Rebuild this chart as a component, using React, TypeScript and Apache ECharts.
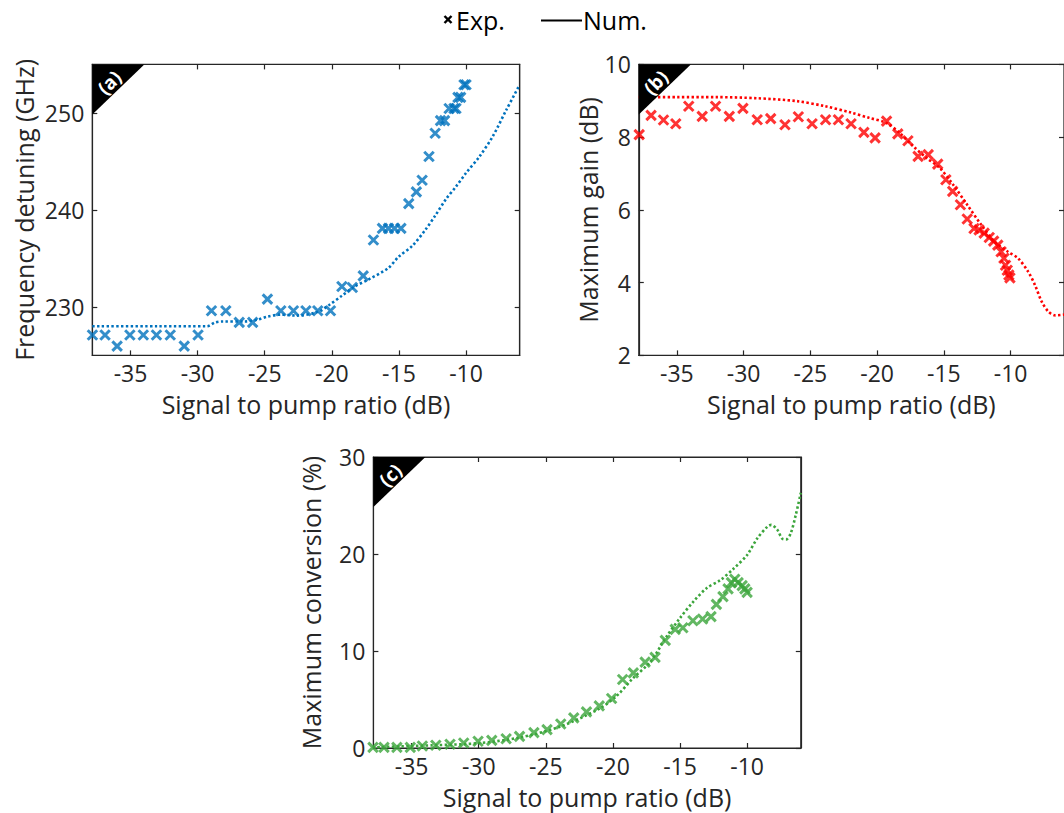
import React, { useEffect, useRef } from 'react';
import * as echarts from 'echarts';

// ---------- data ----------
const xTicks = [-35, -30, -25, -20, -15, -10];

// (a) Frequency detuning
const aExpX = [-37.84, -36.9, -36.0, -35.05, -34.05, -33.07, -32.04, -31.0, -29.97, -28.97, -27.9, -26.9, -25.9, -24.8, -23.8, -22.86, -21.93, -21.05, -20.1, -19.25, -18.47, -17.66, -16.9, -16.23, -15.78, -15.33, -14.85, -14.27, -13.7, -13.27, -12.76, -12.3, -11.9, -11.6, -11.26, -10.9, -10.75, -10.6, -10.4, -10.15, -10.0];
const aExpY = [227.1, 227.1, 225.95, 227.1, 227.1, 227.1, 227.1, 225.95, 227.1, 229.6, 229.6, 228.4, 228.4, 230.8, 229.6, 229.6, 229.6, 229.6, 229.6, 232.1, 232.0, 233.2, 236.9, 238.1, 238.1, 238.1, 238.1, 240.65, 241.86, 243.06, 245.5, 247.9, 249.2, 249.2, 250.45, 250.45, 250.45, 251.6, 251.6, 252.9, 252.9];
const aNumX = [-37.85, -33, -29.3, -28.7, -28.2, -26.5, -25.5, -24.8, -23.8, -22.6, -21.0, -20.2, -19.3, -18.3, -17.3, -15.8, -15.0, -14.0, -13.0, -12.3, -11.5, -10.75, -10.0, -9.0, -8.0, -7.0, -6.0];
const aNumY = [228.0, 228.0, 228.0, 228.4, 228.5, 228.5, 228.7, 229.0, 229.2, 229.1, 229.5, 230.2, 231.1, 232.1, 232.8, 234.0, 235.2, 236.3, 238.0, 239.4, 241.1, 242.4, 243.8, 245.5, 247.6, 250.3, 252.9];
const aYTicks = [230, 240, 250];

// (b) Maximum gain
const bExpX = [-37.82, -36.93, -36.0, -35.08, -34.11, -33.1, -32.1, -31.07, -30.05, -28.98, -27.97, -26.9, -25.9, -24.87, -23.86, -22.9, -21.95, -20.99, -20.15, -19.29, -18.45, -17.69, -16.93, -16.17, -15.46, -14.85, -14.34, -13.76, -13.25, -12.74, -12.36, -11.98, -11.6, -11.27, -10.96, -10.71, -10.5, -10.38, -10.25, -10.13, -10.05];
const bExpY = [8.07, 8.6, 8.47, 8.37, 8.85, 8.57, 8.85, 8.57, 8.79, 8.48, 8.51, 8.34, 8.56, 8.37, 8.48, 8.48, 8.37, 8.13, 7.98, 8.44, 8.09, 7.9, 7.47, 7.52, 7.26, 6.83, 6.51, 6.14, 5.75, 5.49, 5.45, 5.36, 5.24, 5.14, 5.03, 4.85, 4.67, 4.48, 4.34, 4.21, 4.13];
const bNumX = [-37.85, -35, -32, -29, -26, -23.9, -21.9, -20.6, -19.3, -18.3, -17.3, -16.3, -15.3, -14.3, -13.25, -12.2, -11.2, -10.2, -9.44, -8.68, -8.17, -7.66, -7.16, -6.65, -6.0];
const bNumY = [9.1, 9.1, 9.1, 9.07, 8.99, 8.85, 8.67, 8.53, 8.39, 8.11, 7.75, 7.43, 7.15, 6.69, 6.14, 5.59, 5.13, 4.85, 4.67, 4.3, 3.93, 3.47, 3.2, 3.1, 3.12];
const bYTicks = [2, 4, 6, 8, 10];

// (c) Maximum conversion
const cExpX = [-37.88, -37.06, -36.1, -35.1, -34.2, -33.2, -32.14, -31.12, -30.05, -29.03, -27.96, -26.96, -25.89, -24.91, -23.89, -22.92, -21.97, -21.02, -20.1, -19.28, -18.48, -17.6, -16.86, -16.1, -15.36, -14.79, -14.04, -13.32, -12.69, -12.29, -11.8, -11.42, -11.17, -10.92, -10.67, -10.37, -10.17, -10.0];
const cExpY = [0.07, 0.07, 0.07, 0.07, 0.2, 0.28, 0.38, 0.52, 0.69, 0.79, 0.96, 1.2, 1.58, 1.89, 2.48, 3.1, 3.72, 4.34, 5.1, 7.06, 7.75, 8.85, 9.34, 11.09, 12.23, 12.4, 13.12, 13.3, 13.54, 14.81, 15.6, 16.4, 17.05, 17.4, 17.05, 16.74, 16.4, 16.05];
const cNumX = [-37.9, -33.4, -30, -27, -24, -21, -19.7, -18.5, -17.2, -16.0, -15.0, -14.0, -13.0, -12.0, -11.0, -10.0, -9.25, -8.5, -8.2, -7.75, -7.4, -7.1, -6.76, -6.38, -6.0];
const cNumY = [0.07, 0.28, 0.5, 1.07, 2.17, 4.06, 5.4, 7.2, 8.9, 11.5, 13.4, 15.1, 16.5, 17.3, 18.5, 19.9, 21.6, 22.8, 23.0, 22.5, 21.6, 21.5, 22.1, 24.0, 26.3];
const cYTicks = [0, 10, 20, 30];

// ---------- styling ----------
const FONT = '"Open Sans", "Noto Sans", sans-serif';
const AX = '#262626';
const BLUE = '#0072BD';
const RED = '#FF0000';
const GREEN = '#3BA53B';
const XMIN = -37.85;
const XMAX = -6.0;
const PW = 427.4;
const PH = 291;
const TICK_FS = 23;
const NAME_FS = 25;

const grids = [
  { left: 92.3, top: 64.4 },
  { left: 638.8, top: 64.4 },
  { left: 373.4, top: 457 },
];

const X_SYMBOL = 'path://M0,0L10,10M10,0L0,10';

function pairs(xs: number[], ys: number[]) {
  return xs.map((x, i) => [x, ys[i]]);
}

function xAxesFor(gi: number) {
  const base = {
    gridIndex: gi,
    type: 'value',
    min: XMIN,
    max: XMAX,
    splitLine: { show: false },
    axisLine: { show: true, onZero: false, lineStyle: { color: AX, width: 1.2 } },
    axisTick: { show: true, inside: true, length: 5, customValues: xTicks, lineStyle: { color: AX, width: 1.2 } },
  };
  return [
    {
      ...base,
      position: 'bottom',
      axisLabel: { show: true, customValues: xTicks, color: AX, fontFamily: FONT, fontSize: TICK_FS, margin: 6 },
      name: 'Signal to pump ratio (dB)',
      nameLocation: 'middle',
      nameGap: 36,
      nameTextStyle: { color: AX, fontFamily: FONT, fontSize: NAME_FS },
    },
    { ...base, position: 'top', axisLabel: { show: false } },
  ];
}

function yAxesFor(gi: number, min: number, max: number, ticks: number[], name: string, gap: number) {
  const base = {
    gridIndex: gi,
    type: 'value',
    min,
    max,
    splitLine: { show: false },
    axisLine: { show: true, onZero: false, lineStyle: { color: AX, width: 1.2 } },
    axisTick: { show: true, inside: true, length: 5, customValues: ticks, lineStyle: { color: AX, width: 1.2 } },
  };
  return [
    {
      ...base,
      position: 'left',
      axisLabel: { show: true, customValues: ticks, color: AX, fontFamily: FONT, fontSize: TICK_FS, margin: 8 },
      name,
      nameLocation: 'middle',
      nameGap: gap,
      nameTextStyle: { color: AX, fontFamily: FONT, fontSize: NAME_FS },
    },
    { ...base, position: 'right', axisLabel: { show: false } },
  ];
}

function numSeries(idx: number, data: number[][], color: string) {
  return {
    type: 'line',
    xAxisIndex: idx * 2,
    yAxisIndex: idx * 2,
    data,
    showSymbol: false,
    symbol: 'none',
    smooth: 0.3,
    clip: true,
    lineStyle: { color, width: 2.6, type: [2.4, 2.4], cap: 'butt' },
    z: 2,
  };
}

function expSeries(idx: number, data: number[][], color: string) {
  return {
    type: 'scatter',
    xAxisIndex: idx * 2,
    yAxisIndex: idx * 2,
    data,
    symbol: X_SYMBOL,
    symbolSize: 9.5,
    clip: false,
    itemStyle: { color: 'rgba(0,0,0,0)', borderColor: color, borderWidth: 3 },
    z: 3,
  };
}

function cornerLabel(gi: number, label: string) {
  const g = grids[gi];
  const s = 52;
  return [
    {
      type: 'polygon',
      z: 100,
      shape: { points: [[g.left, g.top], [g.left + s, g.top], [g.left, g.top + s - 2]] },
      style: { fill: '#000' },
    },
    {
      type: 'text',
      z: 101,
      x: g.left + 17,
      y: g.top + 18,
      rotation: Math.PI / 4,
      style: {
        text: label,
        fill: '#fff',
        font: `bold 19px ${FONT}`,
        align: 'center',
        verticalAlign: 'middle',
      },
    },
  ];
}

const legendGraphics = [
  { type: 'line', shape: { x1: 444.5, y1: 16, x2: 451.5, y2: 23 }, style: { stroke: '#000', lineWidth: 2.4 } },
  { type: 'line', shape: { x1: 451.5, y1: 16, x2: 444.5, y2: 23 }, style: { stroke: '#000', lineWidth: 2.4 } },
  { type: 'text', x: 456, y: 20, style: { text: 'Exp.', fill: '#000', font: `25px ${FONT}`, verticalAlign: 'middle' } },
  { type: 'line', shape: { x1: 541, y1: 20.5, x2: 582, y2: 20.5 }, style: { stroke: '#000', lineWidth: 2 } },
  { type: 'text', x: 583, y: 20, style: { text: 'Num.', fill: '#000', font: `25px ${FONT}`, verticalAlign: 'middle' } },
];

const option = {
  animation: false,
  backgroundColor: '#fff',
  grid: grids.map((g) => ({
    left: g.left,
    top: g.top,
    width: PW,
    height: PH,
    show: true,
    borderColor: AX,
    borderWidth: 1.2,
    backgroundColor: 'transparent',
  })),
  xAxis: [...xAxesFor(0), ...xAxesFor(1), ...xAxesFor(2)],
  yAxis: [
    ...yAxesFor(0, 225, 255, aYTicks, 'Frequency detuning (GHz)', 56),
    ...yAxesFor(1, 2, 10, bYTicks, 'Maximum gain (dB)', 37),
    ...yAxesFor(2, 0, 30, cYTicks, 'Maximum conversion (%)', 50),
  ],
  series: [
    numSeries(0, pairs(aNumX, aNumY), BLUE),
    expSeries(0, pairs(aExpX, aExpY), BLUE),
    numSeries(1, pairs(bNumX, bNumY), RED),
    expSeries(1, pairs(bExpX, bExpY), RED),
    numSeries(2, pairs(cNumX, cNumY), GREEN),
    expSeries(2, pairs(cExpX, cExpY), GREEN),
  ],
  graphic: [
    ...cornerLabel(0, '(a)'),
    ...cornerLabel(1, '(b)'),
    ...cornerLabel(2, '(c)'),
    ...legendGraphics,
  ],
};

export default function App() {
  const ref = useRef<HTMLDivElement>(null);
  useEffect(() => {
    const chart = echarts.init(ref.current as HTMLDivElement, null, { renderer: 'svg' });
    chart.setOption(option as any);
    return () => chart.dispose();
  }, []);
  return (
    <div
      ref={ref}
      style={{ position: 'fixed', left: 0, top: 0, width: 1064, height: 813, background: '#fff' }}
    />
  );
}
